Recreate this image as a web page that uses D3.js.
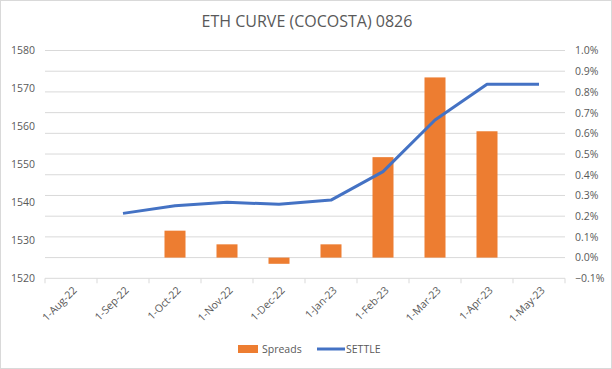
<!DOCTYPE html>
<html><head><meta charset="utf-8">
<script src="https://cdn.jsdelivr.net/npm/d3@7"></script>
<style>body{margin:0;background:#fff}svg{display:block}</style>
</head><body>
<script>
const categories = ["1-Aug-22","1-Sep-22","1-Oct-22","1-Nov-22","1-Dec-22","1-Jan-23","1-Feb-23","1-Mar-23","1-Apr-23","1-May-23"];
const spreads = [null,null,0.0013,0.00064,-0.0003,0.00064,0.00485,0.0087,0.0061,null];
const settle = [null,1537.1,1539.1,1540.0,1539.5,1540.6,1548.1,1561.7,1571.1,1571.1];
const leftTicks = [1520,1530,1540,1550,1560,1570,1580];
const rightTicks = [-0.001,0,0.001,0.002,0.003,0.004,0.005,0.006,0.007,0.008,0.009,0.01];

const W=612,H=369;
const m={l:45,r:565,t:50.5,b:278.3};
const svg=d3.select("body").append("svg").attr("width",W).attr("height",H);
svg.append("rect").attr("x",0.5).attr("y",0.5).attr("width",W-1).attr("height",H-1).attr("fill","#fff").attr("stroke","#d9d9d9");
const font="'Open Sans', Calibri, sans-serif";
const x=d3.scaleBand().domain(categories).range([m.l,m.r]);
const yL=d3.scaleLinear().domain([1520,1580]).range([m.b,m.t]);
const yR=d3.scaleLinear().domain([-0.001,0.01]).range([m.b,m.t]);

// gridlines (secondary axis)
svg.append("g").selectAll("line").data(rightTicks.slice(1)).join("line")
 .attr("x1",m.l).attr("x2",m.r).attr("y1",d=>yR(d)).attr("y2",d=>yR(d))
 .attr("stroke","#d9d9d9").attr("stroke-width",1);

// left axis
const gL=svg.append("g").attr("transform",`translate(${m.l},0)`).call(d3.axisLeft(yL).tickValues(leftTicks).tickFormat(d3.format("d")).tickSize(0).tickPadding(10));
gL.select(".domain").remove();
gL.selectAll("text").attr("fill","#595959").style("font-family",font).style("font-size","10.5px");
// right axis
const gR=svg.append("g").attr("transform",`translate(${m.r},0)`).call(d3.axisRight(yR).tickValues(rightTicks).tickFormat(d3.format(".1%")).tickSize(0).tickPadding(10));
gR.select(".domain").remove();
gR.selectAll("text").attr("fill","#595959").style("font-family",font).style("font-size","10.5px");

// x axis
const bottomY=yR(-0.001);
svg.append("line").attr("x1",m.l).attr("x2",m.r).attr("y1",bottomY).attr("y2",bottomY).attr("stroke","#d9d9d9");
svg.append("g").selectAll("line").data(d3.range(categories.length+1)).join("line")
 .attr("x1",i=>m.l+i*x.step()).attr("x2",i=>m.l+i*x.step()).attr("y1",bottomY).attr("y2",bottomY+5).attr("stroke","#d9d9d9");
svg.append("g").selectAll("text").data(categories).join("text")
 .attr("transform",d=>`translate(${x(d)+x.bandwidth()/2+4},${bottomY+10}) rotate(-45)`)
 .attr("text-anchor","end").attr("dy","0.35em")
 .attr("fill","#595959").style("font-family",font).style("font-size","10.5px").text(d=>d);

// bars
const bw=21;
svg.append("g").selectAll("rect").data(categories.map((c,i)=>({c,v:spreads[i]})).filter(d=>d.v!==null)).join("rect")
 .attr("x",d=>x(d.c)+x.bandwidth()/2-bw/2).attr("width",bw)
 .attr("y",d=>Math.min(yR(d.v),yR(0))).attr("height",d=>Math.abs(yR(d.v)-yR(0)))
 .attr("fill","#ED7D31");

// line
const pts=categories.map((c,i)=>({c,v:settle[i]})).filter(d=>d.v!==null);
svg.append("path").datum(pts).attr("fill","none").attr("stroke","#4472C4").attr("stroke-width",3)
 .attr("stroke-linejoin","round")
 .attr("d",d3.line().x(d=>x(d.c)+x.bandwidth()/2).y(d=>yL(d.v)));

// title
svg.append("text").attr("x",307).attr("y",27).attr("text-anchor","middle").attr("fill","#595959")
 .style("font-family",font).style("font-size","16px").text("ETH CURVE (COCOSTA) 0826");

// legend
const ly=349;
svg.append("rect").attr("x",238).attr("y",ly-4).attr("width",20).attr("height",8).attr("fill","#ED7D31");
svg.append("text").attr("x",262).attr("y",ly).attr("dy","0.35em").attr("fill","#595959").style("font-family",font).style("font-size","10.5px").text("Spreads");
svg.append("line").attr("x1",317).attr("x2",345).attr("y1",ly).attr("y2",ly).attr("stroke","#4472C4").attr("stroke-width",3);
svg.append("text").attr("x",346).attr("y",ly).attr("dy","0.35em").attr("fill","#595959").style("font-family",font).style("font-size","10.5px").text("SETTLE");
</script>
</body></html>
